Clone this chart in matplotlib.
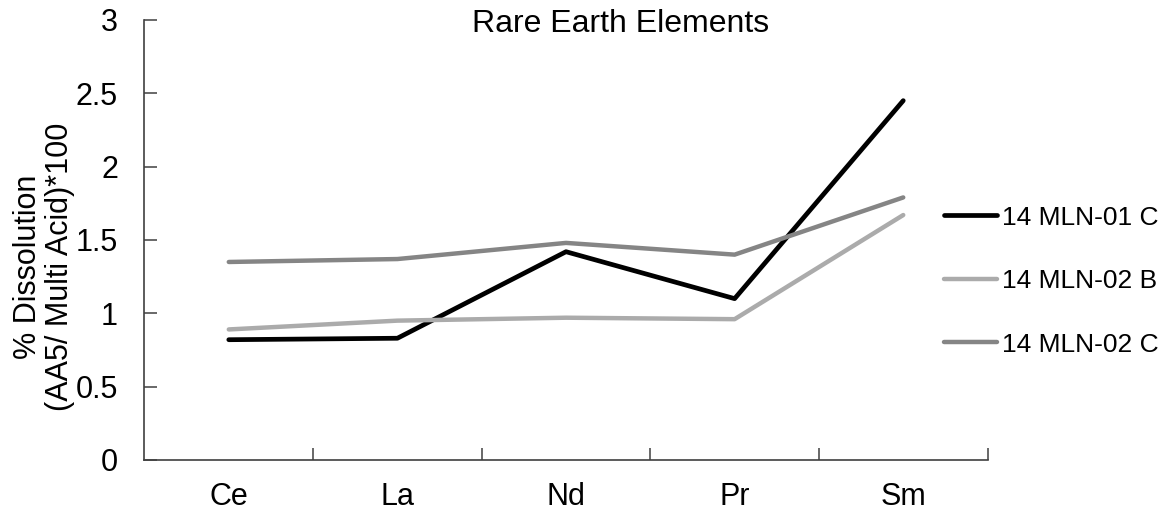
import matplotlib
matplotlib.use("Agg")
import matplotlib.pyplot as plt

# ====== DATA ======
elements = ["Ce", "La", "Nd", "Pr", "Sm"]
mln01_c = [0.82, 0.83, 1.42, 1.10, 2.45]
mln02_b = [0.89, 0.95, 0.97, 0.96, 1.67]
mln02_c = [1.35, 1.37, 1.48, 1.40, 1.79]
series_names = ["14 MLN-01 C", "14 MLN-02 B", "14 MLN-02 C"]
y_ticks = [0, 0.5, 1, 1.5, 2, 2.5, 3]
y_tick_labels = ["0", "0.5", "1", "1.5", "2", "2.5", "3"]

plt.rcParams["font.family"] = ["Liberation Sans", "DejaVu Sans"]

fig = plt.figure(figsize=(11.68, 5.12), dpi=100)
ax = fig.add_axes([0.1237, 0.1016, 0.7218, 0.8594])

x = list(range(len(elements)))
ax.plot(x, mln01_c, color="#000000", lw=3.4, label=series_names[0], solid_capstyle="round")
ax.plot(x, mln02_b, color="#ababab", lw=3.2, label=series_names[1], solid_capstyle="round")
ax.plot(x, mln02_c, color="#858585", lw=3.2, label=series_names[2], solid_capstyle="round")

ax.set_xlim(-0.5, len(elements) - 0.5)
ax.set_ylim(0, 3)
ax.set_yticks(y_ticks)
ax.set_yticklabels(y_tick_labels)
ax.set_xticks(x)
ax.set_xticklabels(elements)
ax.set_xticks([i + 0.5 for i in range(len(elements))], minor=True)

for s in ["top", "right"]:
    ax.spines[s].set_visible(False)
for s in ["left", "bottom"]:
    ax.spines[s].set_color("#404040")
    ax.spines[s].set_linewidth(1.2)

ax.tick_params(axis="x", which="major", length=0, pad=16, labelsize=22)
ax.tick_params(axis="x", which="minor", direction="in", length=9, width=1.1, color="#404040")
ax.tick_params(axis="y", direction="in", length=9, width=1.1, color="#404040", pad=19, labelsize=22)

ax.set_ylabel("% Dissolution\n(AA5/ Multi Acid)*100", fontsize=22, multialignment="center",
              linespacing=1.05)
ax.yaxis.set_label_coords(-0.083, 0.44)

fig.text(0.531, 0.953, "Rare Earth Elements", ha="center", va="center", fontsize=23)

ax.legend(loc="center left", bbox_to_anchor=(0.808, 0.451), bbox_transform=fig.transFigure,
          frameon=False, fontsize=19, handlelength=2.0, handletextpad=0.2,
          labelspacing=1.5, borderpad=0, borderaxespad=0)

fig.savefig("out.png", dpi=100)
